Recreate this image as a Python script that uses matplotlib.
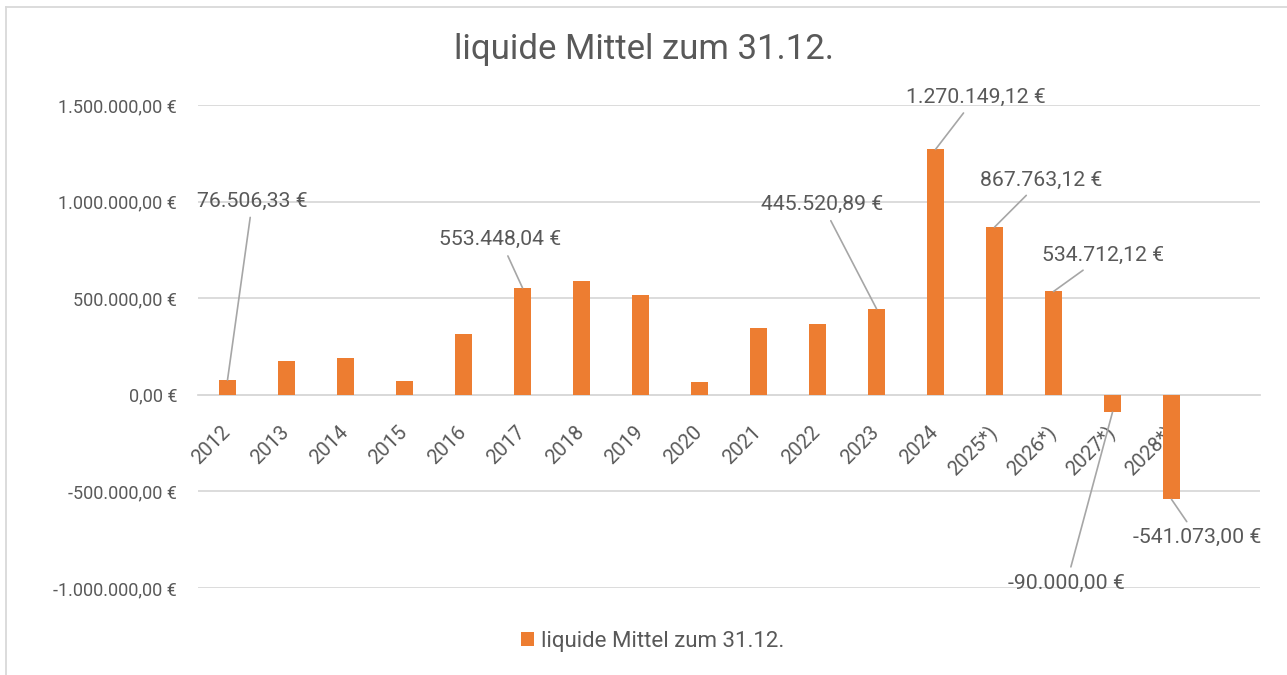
import matplotlib
matplotlib.use("Agg")
import matplotlib.pyplot as plt
from matplotlib.lines import Line2D

plt.rcParams['font.family'] = ['Roboto', 'DejaVu Sans']

years = ['2012', '2013', '2014', '2015', '2016', '2017', '2018', '2019', '2020',
         '2021', '2022', '2023', '2024', '2025*)', '2026*)', '2027*)', '2028*)']
values = [76506.33, 175000, 188000, 74000, 317000, 553448.04, 590000, 518000, 67000,
          344000, 367000, 445520.89, 1270149.12, 867763.12, 534712.12, -90000.00, -541073.00]
series_name = 'liquide Mittel zum 31.12.'

# which bars carry a data label, and where the label sits (pixel offset from bar end)
labeled = {0: (25, 179), 5: (-22, 48), 11: (-54, 104), 12: (40, 52),
           13: (47, 47), 14: (50, 36), 15: (-46, -171), 16: (26, -38)}

ORANGE = '#ED7D31'
GREY = '#595959'
GRID = '#D9D9D9'


def euro(v):
    s = '{:,.2f}'.format(v).replace(',', 'X').replace('.', ',').replace('X', '.')
    return s + ' €'


fig = plt.figure(figsize=(12.87, 6.75), dpi=100)
ax = fig.add_axes([198 / 1287, 1 - 588 / 675, (1260 - 198) / 1287, (588 - 105) / 675])

x = list(range(len(years)))
ax.bar(x, values, width=0.3, color=ORANGE, label=series_name, zorder=3)

ax.set_xlim(-0.5, 17.5)
ax.set_ylim(-1000000, 1500000)
yt = [-1000000, -500000, 0, 500000, 1000000, 1500000]
ax.set_yticks(yt)
ax.set_yticklabels([euro(v) for v in yt], color=GREY, fontsize=13)
ax.yaxis.grid(True, color=GRID, linewidth=1.3, zorder=0)
ax.tick_params(axis='y', length=0, pad=15)

# category axis sits on the zero line
for name in ['top', 'left', 'right']:
    ax.spines[name].set_visible(False)
ax.spines['bottom'].set_position(('data', 0))
ax.spines['bottom'].set_color(GRID)
ax.spines['bottom'].set_linewidth(1.3)
ax.spines['bottom'].set_zorder(2)

ax.set_xticks(x)
ax.set_xticklabels(years, rotation=45, ha='right', va='center', rotation_mode='anchor',
                   color=GREY, fontsize=14.5)
ax.tick_params(axis='x', length=0, pad=25)

for i, (dx, dy) in labeled.items():
    ax.annotate(euro(values[i]), xy=(x[i], values[i]), xytext=(dx, dy),
                textcoords='offset pixels', ha='center', va='center',
                fontsize=15.3, color=GREY, zorder=5,
                arrowprops=dict(arrowstyle='-', color='#A6A6A6', lw=1.2,
                                shrinkA=3, shrinkB=0))

fig.text(0.5, 1 - 50 / 675, series_name, ha='center', va='center', fontsize=25, color=GREY)

leg = fig.legend(loc='center', bbox_to_anchor=(0.507, 1 - 641 / 675), frameon=False,
                 fontsize=16, handlelength=0.6, handleheight=0.6, handletextpad=0.3)
for t in leg.get_texts():
    t.set_color(GREY)

# chart frame
fig.add_artist(Line2D([6 / 1287, 6 / 1287], [0, 1 - 7 / 675], color=GRID, lw=1.3))
fig.add_artist(Line2D([6 / 1287, 1], [1 - 7 / 675, 1 - 7 / 675], color=GRID, lw=1.3))

fig.savefig('out.png', dpi=100)
